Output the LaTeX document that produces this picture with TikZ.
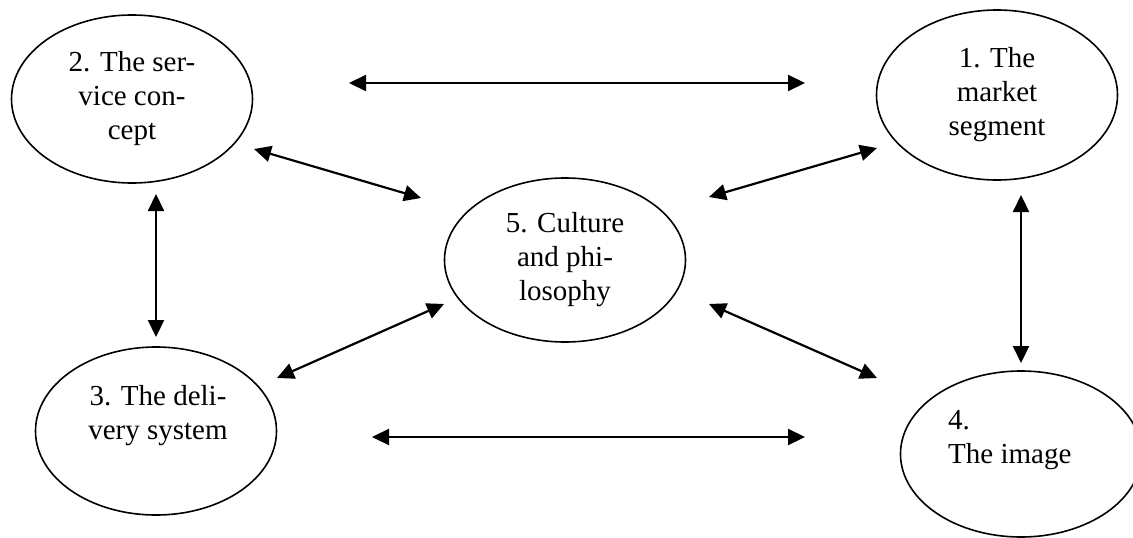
\documentclass[tikz,border=0pt]{standalone}
\usepackage{fontspec}
\setmainfont{Liberation Serif}
\usetikzlibrary{arrows.meta,shapes.geometric}
\begin{document}
\begin{tikzpicture}[x=1pt,y=-1pt,
  oval/.style={draw,ellipse,line width=1.6pt,inner sep=0pt,minimum width=241pt,minimum height=168pt,align=center,font=\fontsize{29}{34}\selectfont},
  txt/.style={inner sep=0pt,font=\fontsize{29}{34}\selectfont},
  link/.style={line width=2.2pt,{Triangle[length=17pt,width=16pt]}-{Triangle[length=17pt,width=16pt]}}]
\useasboundingbox (0,0) rectangle (1133,538);
\node[oval] (n2) at (132,99) {2. The ser-\\vice con-\\cept};
\node[oval,minimum height=170pt] (n1) at (997,95) {1. The\\market\\segment};
\node[oval,minimum height=164pt] (n5) at (565,260) {5. Culture\\and phi-\\losophy};
\node[oval] (n3) at (156,431) {};
\node[txt,align=center] (t3) at (158,416) {3. The deli-\\very system};
\node[oval,minimum height=166pt] (n4) at (1021,454) {};
\node[txt,align=left,anchor=west] (t4) at (948,440) {4.\\The image};
% connector ends
\coordinate (a1) at (349,83);   \coordinate (a2) at (805,83);
\coordinate (b1) at (372,437);  \coordinate (b2) at (805,437);
\coordinate (c1) at (254,149);  \coordinate (c2) at (421,198);
\coordinate (d1) at (709,197);  \coordinate (d2) at (877,148);
\coordinate (e1) at (156,194);  \coordinate (e2) at (156,337);
\coordinate (f1) at (1021,195); \coordinate (f2) at (1021,363);
\coordinate (g1) at (277,378);  \coordinate (g2) at (444,304);
\coordinate (h1) at (709,304);  \coordinate (h2) at (877,378);
\draw[link] (a1) -- (a2);
\draw[link] (b1) -- (b2);
\draw[link] (c1) -- (c2);
\draw[link] (d1) -- (d2);
\draw[link] (e1) -- (e2);
\draw[link] (f1) -- (f2);
\draw[link] (g1) -- (g2);
\draw[link] (h1) -- (h2);
\end{tikzpicture}
\end{document}
